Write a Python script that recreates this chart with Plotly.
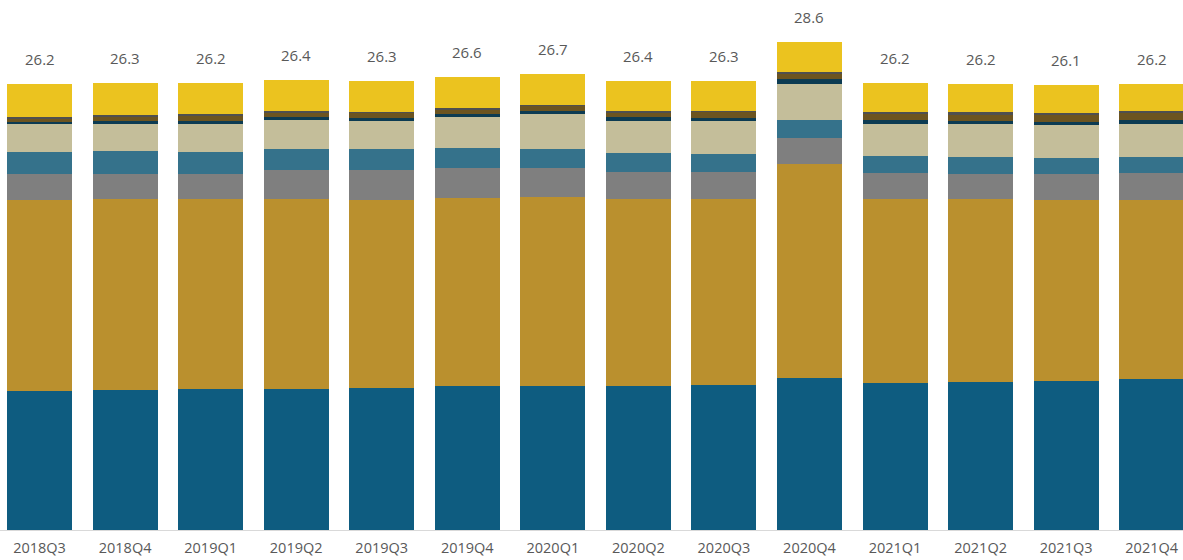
import plotly.graph_objects as go

quarters = ["2018Q3", "2018Q4", "2019Q1", "2019Q2", "2019Q3", "2019Q4", "2020Q1",
            "2020Q2", "2020Q3", "2020Q4", "2021Q1", "2021Q2", "2021Q3", "2021Q4"]

s_blue   = [8.17, 8.23, 8.29, 8.29, 8.35, 8.47, 8.47, 8.47, 8.53, 8.94, 8.64, 8.70, 8.76, 8.86]
s_gold   = [11.17, 11.17, 11.11, 11.11, 11.03, 11.03, 11.09, 10.97, 10.92, 12.52, 10.80, 10.70, 10.59, 10.49]
s_grey   = [1.53, 1.50, 1.50, 1.72, 1.74, 1.73, 1.67, 1.55, 1.53, 1.53, 1.53, 1.50, 1.56, 1.60]
s_teal   = [1.31, 1.33, 1.27, 1.25, 1.21, 1.17, 1.12, 1.13, 1.10, 1.07, 0.98, 0.98, 0.92, 0.94]
s_beige  = [1.63, 1.60, 1.68, 1.68, 1.66, 1.82, 2.05, 1.88, 1.90, 2.11, 1.86, 1.92, 1.92, 1.92]
s_navy   = [0.15, 0.18, 0.15, 0.18, 0.19, 0.18, 0.21, 0.23, 0.22, 0.29, 0.25, 0.21, 0.21, 0.27]
s_brown  = [0.20, 0.28, 0.33, 0.28, 0.29, 0.27, 0.28, 0.28, 0.33, 0.33, 0.39, 0.35, 0.43, 0.38]
s_dgrey  = [0.08, 0.06, 0.06, 0.06, 0.06, 0.10, 0.06, 0.06, 0.06, 0.09, 0.06, 0.14, 0.06, 0.12]
s_yellow = [1.94, 1.88, 1.82, 1.84, 1.82, 1.80, 1.80, 1.80, 1.74, 1.76, 1.74, 1.66, 1.68, 1.60]

totals = ["26.2", "26.3", "26.2", "26.4", "26.3", "26.6", "26.7",
          "26.4", "26.3", "28.6", "26.2", "26.2", "26.1", "26.2"]

series = [
    (s_blue, "#0E5C80"),
    (s_gold, "#BA902E"),
    (s_grey, "#7F7F7F"),
    (s_teal, "#35728B"),
    (s_beige, "#C4BE9A"),
    (s_navy, "#0C3B52"),
    (s_brown, "#6C5420"),
    (s_dgrey, "#4F4F4F"),
    (s_yellow, "#EBC31F"),
]

fig = go.Figure()
for vals, col in series:
    fig.add_trace(go.Bar(x=quarters, y=vals, marker=dict(color=col, line=dict(width=0)),
                         showlegend=False, hoverinfo="skip"))

sums = [sum(v[i] for v, _ in series) for i in range(len(quarters))]
for q, s, t in zip(quarters, sums, totals):
    fig.add_annotation(x=q, y=s, text=t, showarrow=False, yanchor="middle", yshift=25,
                       font=dict(family="Open Sans", size=15, color="#595959"))

fig.update_layout(
    barmode="stack",
    bargap=0.24,
    width=1183, height=560,
    margin=dict(l=0, r=0, t=0, b=30),
    plot_bgcolor="white", paper_bgcolor="white",
    xaxis=dict(range=[-0.462, 13.366], showline=True, linecolor="#D9D9D9", linewidth=1,
               ticks="", showgrid=False, ticklabelstandoff=5,
               tickfont=dict(family="Open Sans", size=14.5, color="#595959")),
    yaxis=dict(range=[0, 31.1], visible=False, showgrid=False),
)

fig.write_html("out.html", config={"displayModeBar": False},
               post_script="document.body.style.margin='0';document.body.style.overflow='hidden';")
